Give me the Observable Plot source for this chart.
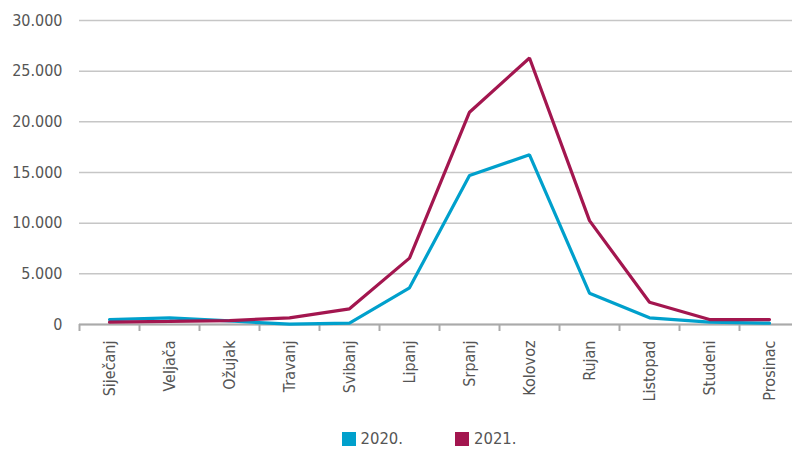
<!DOCTYPE html>
<html>
<head>
<meta charset="utf-8">
<script src="https://cdn.jsdelivr.net/npm/d3@7"></script>
<script src="https://cdn.jsdelivr.net/npm/@observablehq/plot@0.6"></script>
<style>
  html, body { margin: 0; padding: 0; background: #fff; }
  body { width: 792px; height: 450px; overflow: hidden; font-family: "Liberation Sans Narrow", "DejaVu Sans Condensed", sans-serif; }
  #chart svg { display: block; }
  #legend { display: flex; justify-content: center; align-items: center; height: 16px; line-height: 16px; padding-top: 3px; padding-left: 66px; font-size: 16.5px; color: #555; }
  .item { display: flex; align-items: center; margin: 0 26px; height: 16px; }
  .sw { width: 14px; height: 14px; margin-right: 5px; }
</style>
</head>
<body>
<div id="chart"></div>
<div id="legend"></div>
<script>
const months = ["Siječanj","Veljača","Ožujak","Travanj","Svibanj","Lipanj","Srpanj","Kolovoz","Rujan","Listopad","Studeni","Prosinac"];
const series = ["2020.", "2021."];
const values2020 = [490, 660, 350, 30, 130, 3620, 14700, 16750, 3090, 660, 230, 130];
const values2021 = [230, 300, 390, 660, 1550, 6550, 20950, 26300, 10250, 2200, 490, 490];
const colors = ["#00a0cc", "#a3164f"];
const yTicks = [0, 5000, 10000, 15000, 20000, 25000, 30000];

const rows = [];
months.forEach((m, i) => {
  rows.push({i, month: m, year: series[0], value: values2020[i]});
  rows.push({i, month: m, year: series[1], value: values2021[i]});
});
const boundaries = months.map((_, i) => i - 0.5);
const fmt = v => d3.format(",")(v).replace(/,/g, ".");

const chart = Plot.plot({
  width: 792,
  height: 428,
  marginLeft: 79,
  marginRight: 0,
  marginTop: 20,
  marginBottom: 104,
  style: {fontFamily: '"Liberation Sans Narrow", "DejaVu Sans Condensed", sans-serif', fontSize: "16px", color: "#555", background: "#fff"},
  x: {type: "linear", domain: [-0.5, 11.5], range: [79, 799]},
  y: {domain: [0, 30000]},
  color: {domain: series, range: colors},
  marks: [
    Plot.gridY(yTicks, {stroke: "#c6c6c6", strokeOpacity: 1, strokeWidth: 1.5}),
    Plot.axisY(yTicks, {tickSize: 0, tickPadding: 17, tickFormat: fmt, label: null, fill: "#555", fontSize: 16}),
    Plot.axisX(months.map((_, i) => i), {tickSize: 0, tickPadding: 16, tickRotate: -90, tickFormat: i => months[i], label: null, fill: "#555", fontSize: 16}),
    Plot.axisX(boundaries, {tickSize: 7, text: null, stroke: "#aaa", strokeWidth: 2, label: null}),
    Plot.ruleY([0], {stroke: "#aaa", strokeWidth: 2}),
    Plot.line(rows, {x: "i", y: "value", z: "year", stroke: "year", strokeWidth: 3.2, strokeLinejoin: "miter"})
  ]
});
document.getElementById("chart").append(chart);

const legend = document.getElementById("legend");
series.forEach((s, k) => {
  const item = document.createElement("div");
  item.className = "item";
  item.innerHTML = `<span class="sw" style="background:${colors[k]}"></span><span>${s}</span>`;
  legend.append(item);
});
</script>
</body>
</html>
